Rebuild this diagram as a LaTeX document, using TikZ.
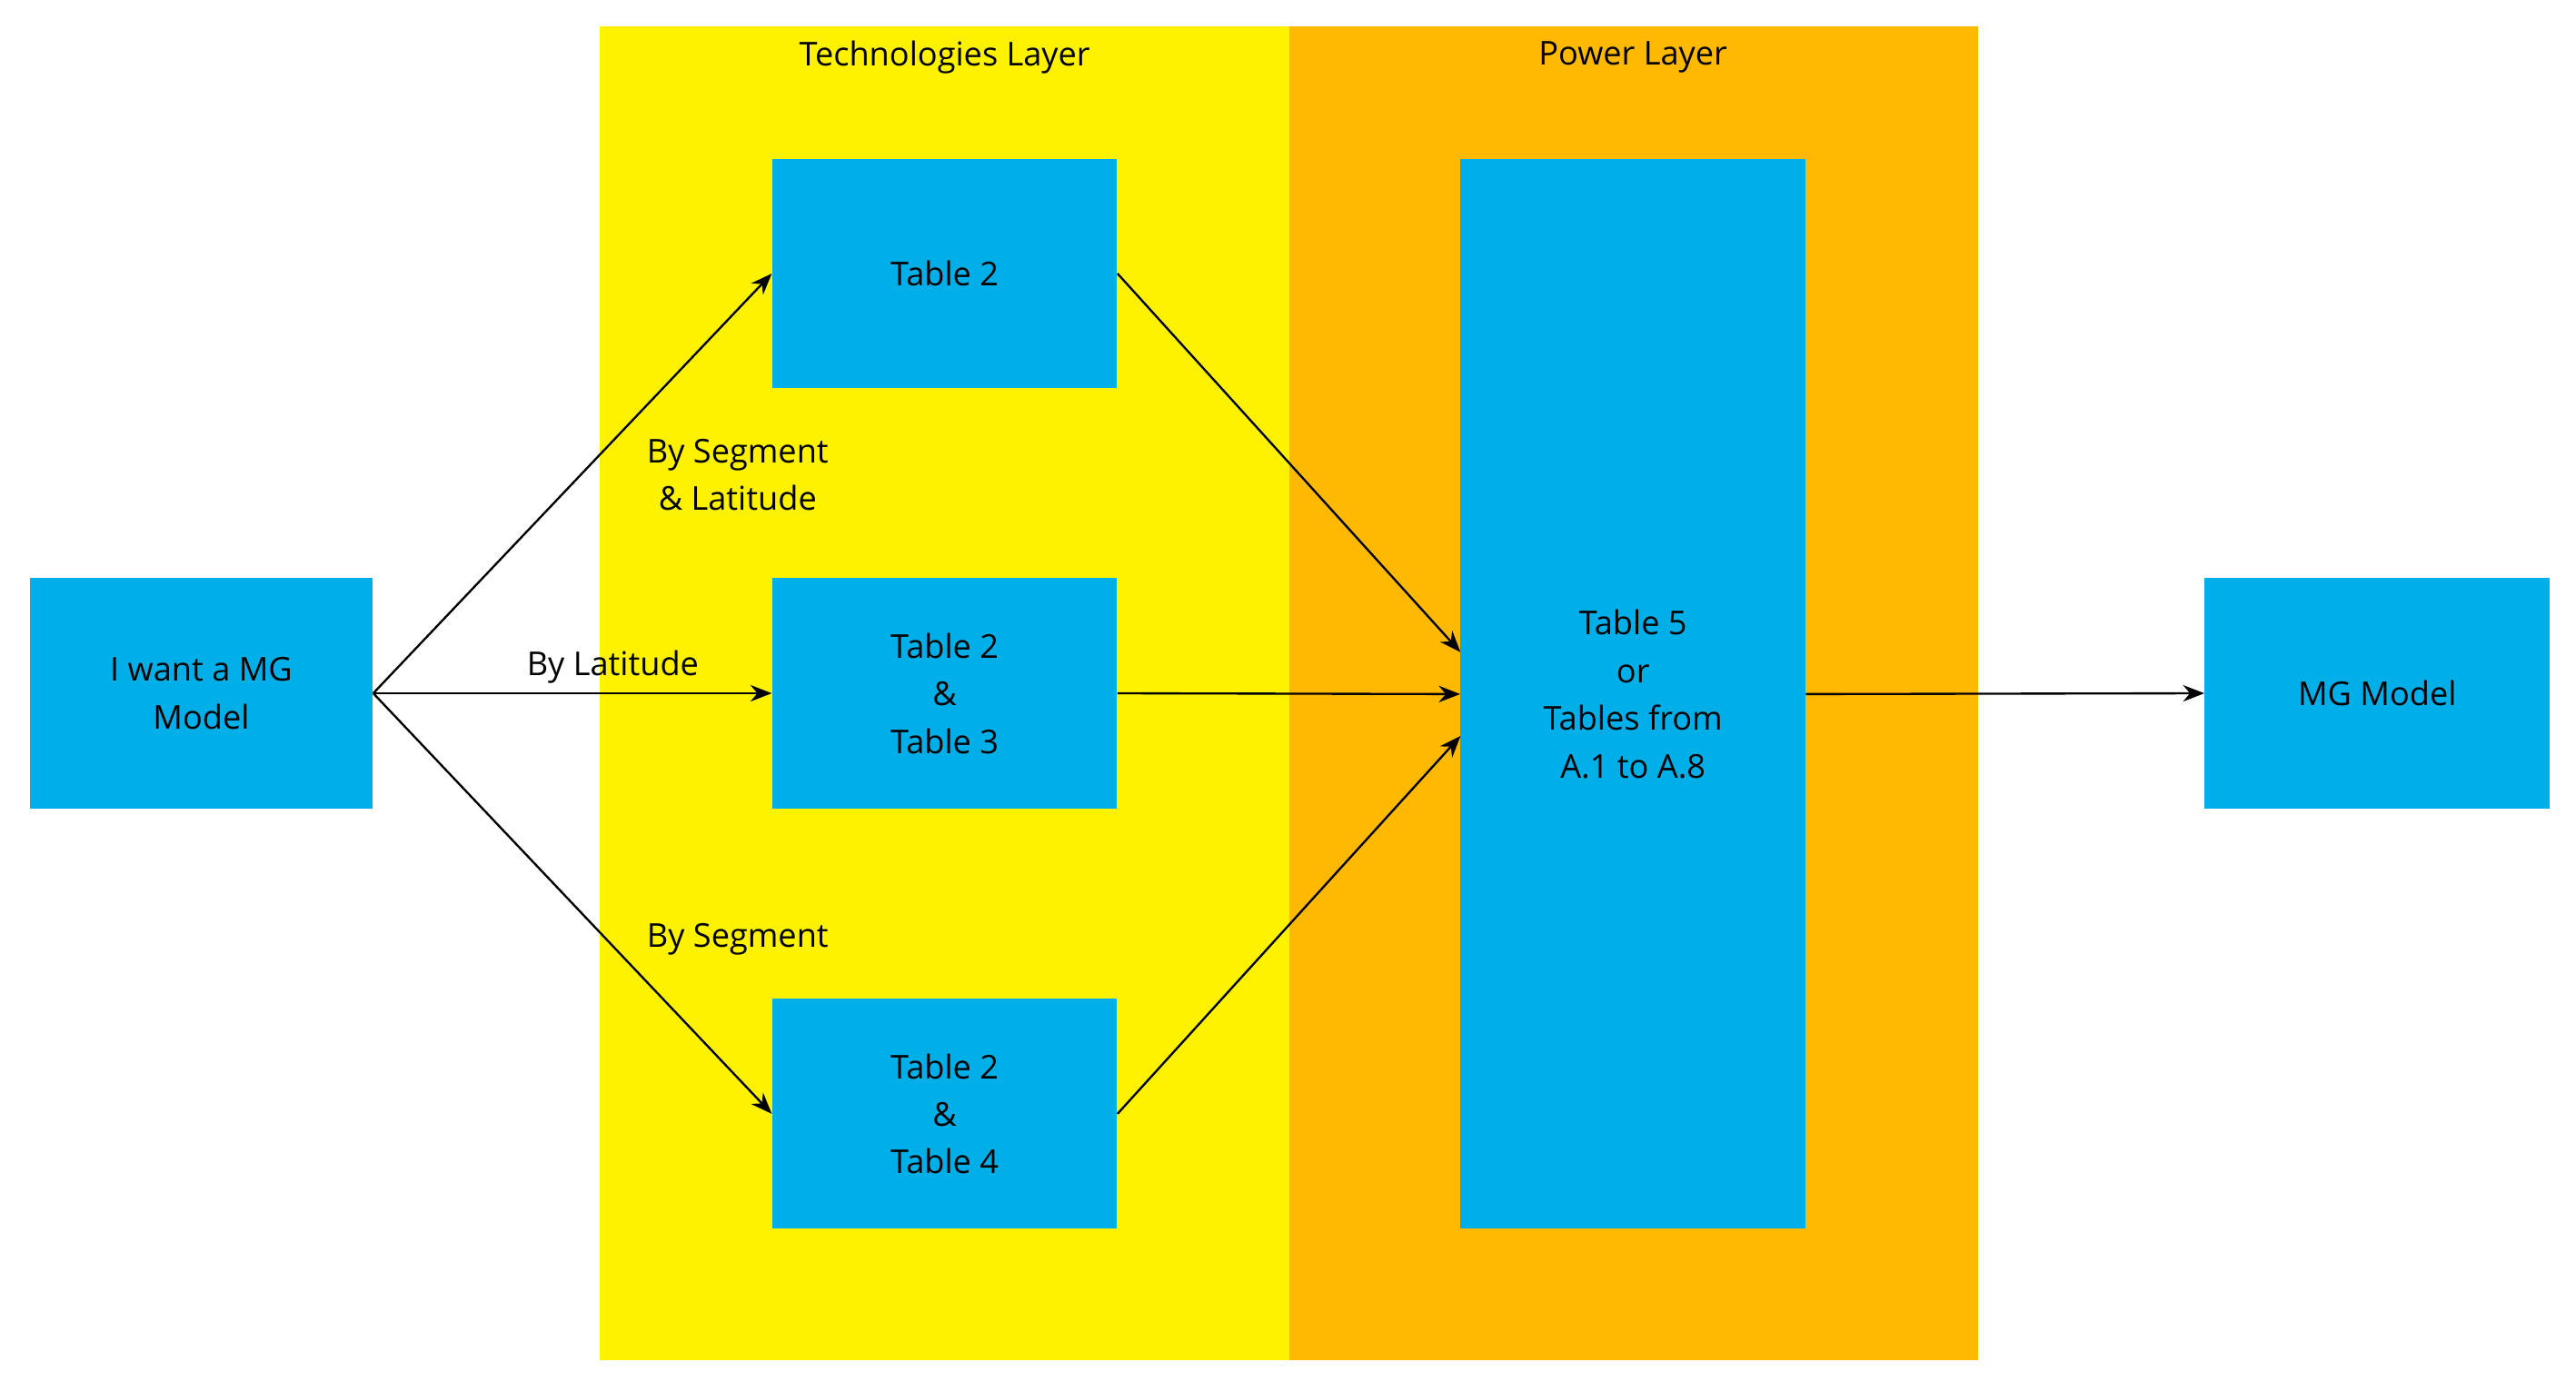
\documentclass[tikz,border=0pt]{standalone}
\usepackage{fontspec}
\setmainfont{Open Sans}
\usetikzlibrary{arrows.meta}
\definecolor{cy}{HTML}{00AFE8}
\definecolor{ye}{HTML}{FFF200}
\definecolor{orr}{HTML}{FFB900}
\begin{document}
\begin{tikzpicture}[x=1pt,y=-1pt,
  box/.style={fill=cy,draw=none,align=center,font=\fontsize{20}{29}\selectfont},
  lbl/.style={align=center,font=\fontsize{20}{29}\selectfont},
  arr/.style={-{Stealth[length=13pt,width=10pt]},line width=1.3pt}]
\useasboundingbox (0,0) rectangle (1568,847);
\fill[ye] (365,16) rectangle (785,828);
\fill[orr] (785,16) rectangle (1204,828);
\node[lbl] (tl) at (575,35) {Technologies Layer};
\node[lbl] (pl) at (994,35) {Power Layer};
\node[box,minimum width=209pt,minimum height=140pt] (a) at (122.5,422) {I want a MG\\Model};
\node[box,minimum width=210pt,minimum height=139pt] (t1) at (575,166.5) {Table 2};
\node[box,minimum width=210pt,minimum height=140pt] (t2) at (575,422) {Table 2\\\&\\Table 3};
\node[box,minimum width=210pt,minimum height=140pt] (t3) at (575,678) {Table 2\\\&\\Table 4};
\node[box,minimum width=210pt,minimum height=651pt] (t5) at (994,422.5) {Table 5\\or\\Tables from\\A.1 to A.8};
\node[box,minimum width=210pt,minimum height=140pt] (m) at (1447,422) {MG Model};
\coordinate (t5a) at (889,397);
\coordinate (t5c) at (889,448);
\draw[arr] (a.east) -- (t1.west);
\draw[arr] (a.east) -- (t2.west);
\draw[arr] (a.east) -- (t3.west);
\draw[arr] (t1.east) -- (t5a);
\draw[arr] (t2.east) -- (t5.west);
\draw[arr] (t3.east) -- (t5c);
\draw[arr] (t5.east) -- (m.west);
\node[lbl] (l1) at (449,289) {By Segment\\\& Latitude};
\node[lbl] (l2) at (373,406) {By Latitude};
\node[lbl] (l3) at (449,572) {By Segment};
\end{tikzpicture}
\end{document}
